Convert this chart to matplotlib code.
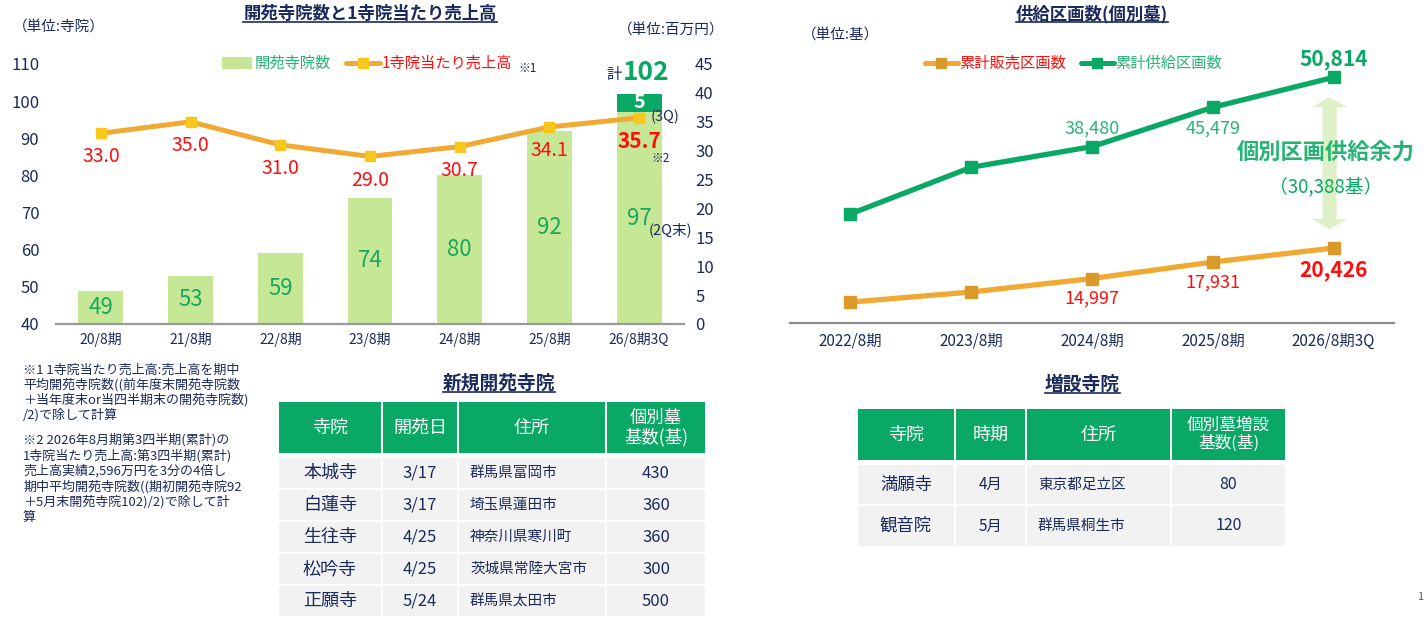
import matplotlib
matplotlib.use("Agg")
import numpy as np
from matplotlib import pyplot as plt
from matplotlib.patches import Rectangle, Polygon

plt.rcParams['font.family'] = ['Noto Sans CJK JP', 'DejaVu Sans']

W, H = 1426, 625

# ---- data ----
periods = ["20/8期", "21/8期", "22/8期", "23/8期", "24/8期", "25/8期", "26/8期3Q"]
temples = [49, 53, 59, 74, 80, 92, 97]
temples_added = [0, 0, 0, 0, 0, 0, 5]
sales_per_temple = [33.0, 35.0, 31.0, 29.0, 30.7, 34.1, 35.7]

years = ["2022/8期", "2023/8期", "2024/8期", "2025/8期", "2026/8期3Q"]
sold = [10800, 12600, 14997, 17931, 20426]
supplied = [26500, 34800, 38480, 45479, 50814]

new_header = ["寺院", "開苑日", "住所", "個別墓\n基数(基)"]
new_names = ["本城寺", "白蓮寺", "生往寺", "松吟寺", "正願寺"]
new_dates = ["3/17", "3/17", "4/25", "4/25", "5/24"]
new_addr = ["群馬県富岡市", "埼玉県蓮田市", "神奈川県寒川町", "茨城県常陸大宮市", "群馬県太田市"]
new_count = [430, 360, 360, 300, 500]

ext_header = ["寺院", "時期", "住所", "個別墓増設\n基数(基)"]
ext_names = ["満願寺", "観音院"]
ext_when = ["4月", "5月"]
ext_addr = ["東京都足立区", "群馬県桐生市"]
ext_count = [80, 120]

note1 = ["※1 1寺院当たり売上高:売上高を期中",
         "平均開苑寺院数((前年度末開苑寺院数",
         "＋当年度末or当四半期末の開苑寺院数)",
         "/2)で除して計算"]
note2 = ["※2 2026年8月期第3四半期(累計)の",
         "1寺院当たり売上高:第3四半期(累計)",
         "売上高実績2,596万円を3分の4倍し",
         "期中平均開苑寺院数((期初開苑寺院92",
         "＋5月末開苑寺院102)/2)で除して計",
         "算"]

NAVY = "#1b2a5c"
LGREEN = "#c6e896"
DGREEN = "#09a864"
GTEXT = "#19a85e"
LTGREEN = "#26b474"
ORANGE = "#f0aa34"
ORANGE_MK = "#d99a2b"
YELLOW = "#f8c71c"
RED = "#ff0d0d"
GRAY = "#9a9a9a"
CELL = "#f2f2f2"

fig = plt.figure(figsize=(W / 100, H / 100), dpi=100)


def box(x0, y0, x1, y1):
    return fig.add_axes([x0 / W, 1 - y1 / H, (x1 - x0) / W, (y1 - y0) / H])


# ---- left chart ----
ax1 = box(56, 64, 684, 324)
x = np.arange(len(periods))
ax1.bar(x, temples, width=0.5, color=LGREEN, lw=0, zorder=2)
ax1.bar(x, temples_added, bottom=temples, width=0.5, color=DGREEN, lw=0, zorder=2)
ax1.set_xlim(-0.5, 6.5)
ax1.set_ylim(40, 110)
ax1.set_yticks(range(40, 111, 10))
ax1.set_xticks(x, periods)
ax1.tick_params(length=0, labelcolor=NAVY)
ax1.tick_params(axis='y', labelsize=12, pad=12)
ax1.tick_params(axis='x', labelsize=10, pad=6)
for s in ['top', 'left', 'right']:
    ax1.spines[s].set_visible(False)
ax1.spines['bottom'].set_color(GRAY)
ax1.spines['bottom'].set_linewidth(1.6)
ax1.patch.set_alpha(0)
for xi, v in zip(x, temples):
    ax1.text(xi, (40 + v) / 2, str(v), ha='center', va='center',
             fontsize=16, color=GTEXT, zorder=3)
for xi, v in zip(x, temples_added):
    if v:
        ax1.text(xi, temples[xi] + v / 2, str(v), ha='center', va='center',
                 fontsize=14, color='white', fontweight='bold', zorder=3)

ax2 = ax1.twinx()
ax2.set_ylim(0, 45)
ax2.set_yticks(range(0, 46, 5))
ax2.tick_params(length=0, labelcolor=NAVY, labelsize=12, pad=8)
for s in ax2.spines.values():
    s.set_visible(False)
ax2.plot(x, sales_per_temple, color=ORANGE, lw=3.6, marker='s', ms=7,
         mfc=YELLOW, mec=YELLOW, zorder=4)
for i, v in enumerate(sales_per_temple):
    last = i == len(sales_per_temple) - 1
    ax2.annotate(f"{v:.1f}", (x[i], v), xytext=(0, -17), textcoords='offset points',
                 ha='center', va='center', color=RED,
                 fontsize=15 if last else 14, fontweight='bold' if last else 'normal')

# ---- right chart ----
ax3 = box(790, 60, 1394, 323)
xr = np.arange(len(years))
ax3.plot(xr, supplied, color=DGREEN, lw=3.8, marker='s', ms=8, zorder=3)
ax3.plot(xr, sold, color=ORANGE, lw=3.8, marker='s', ms=8,
         mfc=ORANGE_MK, mec=ORANGE_MK, zorder=3)
ax3.set_xlim(-0.5, 4.5)
ax3.set_ylim(7080, 53900)
ax3.set_yticks([])
ax3.set_xticks(xr, years)
ax3.tick_params(length=0, labelcolor=NAVY, labelsize=11, pad=7)
for s in ['top', 'left', 'right']:
    ax3.spines[s].set_visible(False)
ax3.spines['bottom'].set_color("#8c8c8c")
ax3.spines['bottom'].set_linewidth(1.6)
ax3.patch.set_alpha(0)

sup_lab = {2: (13, False), 3: (-15, False), 4: (12.5, True)}
for i, (dy, bold) in sup_lab.items():
    ax3.annotate(f"{supplied[i]:,}", (xr[i], supplied[i]), xytext=(0, dy),
                 textcoords='offset points', ha='center', va='center',
                 color=DGREEN if bold else LTGREEN, fontsize=15 if bold else 13,
                 fontweight='bold' if bold else 'normal')
sold_lab = {2: (-14.5, False), 3: (-14.5, False), 4: (-16.5, True)}
for i, (dy, bold) in sold_lab.items():
    ax3.annotate(f"{sold[i]:,}", (xr[i], sold[i]), xytext=(0, dy),
                 textcoords='offset points', ha='center', va='center',
                 color=RED, fontsize=15 if bold else 13,
                 fontweight='bold' if bold else 'normal')

# ---- overlay in pixel space ----
pax = fig.add_axes([0, 0, 1, 1])
pax.set_xlim(0, W)
pax.set_ylim(H, 0)
pax.axis('off')
pax.patch.set_alpha(0)


def to_px(ax, pt):
    d = ax.transData.transform(pt)
    return pax.transData.inverted().transform(d)


titles = []
titles.append(pax.text(370, 14, "開苑寺院数と1寺院当たり売上高", ha='center', va='center',
                       fontsize=12.5, fontweight='bold', color=NAVY))
titles.append(pax.text(1092, 14, "供給区画数(個別墓)", ha='center', va='center',
                       fontsize=12.5, fontweight='bold', color=NAVY))
titles.append(pax.text(499, 383, "新規開苑寺院", ha='center', va='center',
                       fontsize=13.5, fontweight='bold', color=NAVY))
titles.append(pax.text(1082, 384, "増設寺院", ha='center', va='center',
                       fontsize=13.5, fontweight='bold', color=NAVY))

pax.text(59, 27, "（単位:寺院）", ha='center', va='center', fontsize=10.5, color=NAVY)
pax.text(671, 30, "（単位:百万円）", ha='center', va='center', fontsize=10.5, color=NAVY)
pax.text(841, 35, "（単位:基）", ha='center', va='center', fontsize=10.5, color=NAVY)

# left legend
pax.add_patch(Rectangle((222, 57), 30, 12, color=LGREEN, lw=0))
pax.text(255, 63, "開苑寺院数", ha='left', va='center', fontsize=11, color=LTGREEN)
pax.plot([346, 380], [63, 63], color=ORANGE, lw=3.6, solid_capstyle='round')
pax.plot([363], [63], marker='s', ms=7, color=YELLOW)
pax.text(382, 63, "1寺院当たり売上高", ha='left', va='center', fontsize=11, color=RED)
pax.text(518, 68, "※1", ha='left', va='center', fontsize=8.5, color=NAVY)

# right legend
pax.plot([925, 958], [63, 63], color=ORANGE, lw=3.6, solid_capstyle='round')
pax.plot([941], [63], marker='s', ms=7, color=ORANGE_MK)
pax.text(959, 63, "累計販売区画数", ha='left', va='center', fontsize=11, color=RED)
pax.plot([1081, 1114], [63, 63], color=DGREEN, lw=3.6, solid_capstyle='round')
pax.plot([1097], [63], marker='s', ms=7, color=DGREEN)
pax.text(1115, 63, "累計供給区画数", ha='left', va='center', fontsize=11, color=LTGREEN)

# left chart extra notes
total = temples[-1] + temples_added[-1]
pax.text(622, 75, "計", ha='right', va='center', fontsize=11, color=NAVY)
pax.text(623, 73, str(total), ha='left', va='center', fontsize=19,
         fontweight='bold', color=DGREEN)
pax.text(651, 117, "(3Q)", ha='left', va='center', fontsize=10.5, color=NAVY)
pax.text(651, 158, "※2", ha='left', va='center', fontsize=8.5, color=NAVY)
pax.text(649, 230, "(2Q末)", ha='left', va='center', fontsize=10.5, color=NAVY)

# supply margin arrow
xa, ytop = to_px(ax3, (xr[-1], supplied[-1]))
_, ybot = to_px(ax3, (xr[-1], sold[-1]))
xa -= 4
ytop += 20
ybot -= 19
hw, sw, hl = 18, 7, 10
pax.add_patch(Polygon([(xa, ytop), (xa + hw, ytop + hl), (xa + sw, ytop + hl),
                       (xa + sw, ybot - hl), (xa + hw, ybot - hl), (xa, ybot),
                       (xa - hw, ybot - hl), (xa - sw, ybot - hl), (xa - sw, ytop + hl),
                       (xa - hw, ytop + hl)], closed=True, color="#ddf0c6", lw=0, zorder=1))
margin = supplied[-1] - sold[-1]
pax.text(1326, 152, "個別区画供給余力", ha='center', va='center', fontsize=16,
         fontweight='bold', color=LTGREEN, zorder=3)
pax.text(1326, 187, f"（{margin:,}基）", ha='center', va='center', fontsize=13.5,
         color=DGREEN, zorder=3)

# footnotes
for k, line in enumerate(note1):
    pax.text(23, 370 + 15 * k, line, ha='left', va='center', fontsize=9.4, color=NAVY)
for k, line in enumerate(note2):
    pax.text(23, 440 + 15.5 * k, line, ha='left', va='center', fontsize=9.4, color=NAVY)


# tables
def draw_table(cols, head, rows_y, header, rows, fsizes, hsizes, addr_pad=12):
    for c in range(len(cols) - 1):
        pax.add_patch(Rectangle((cols[c] + 1, head[0]), cols[c + 1] - cols[c] - 2,
                                head[1] - head[0], color=DGREEN, lw=0))
        pax.text((cols[c] + cols[c + 1]) / 2, (head[0] + head[1]) / 2, header[c],
                 ha='center', va='center', fontsize=hsizes[c], color='white',
                 linespacing=1.1)
    for r, vals in enumerate(rows):
        y0, y1 = rows_y[r], rows_y[r + 1]
        for c in range(len(cols) - 1):
            pax.add_patch(Rectangle((cols[c] + 1, y0 + 1), cols[c + 1] - cols[c] - 2,
                                    y1 - y0 - 2, color=CELL, lw=0))
            if c == 2:
                pax.text(cols[c] + addr_pad, (y0 + y1) / 2, vals[c], ha='left',
                         va='center', fontsize=fsizes[c], color=NAVY)
            else:
                pax.text((cols[c] + cols[c + 1]) / 2, (y0 + y1) / 2, vals[c],
                         ha='center', va='center', fontsize=fsizes[c], color=NAVY)


draw_table([278, 382, 458, 606, 706], (402, 453), [457, 489, 521, 553, 585, 617],
           new_header,
           [(n, d, a, str(c)) for n, d, a, c in zip(new_names, new_dates, new_addr, new_count)],
           [13, 12, 10.5, 12], [13, 13, 13, 12.5])
draw_table([857, 955, 1026, 1171, 1286], (409, 460), [464, 505, 547],
           ext_header,
           [(n, d, a, str(c)) for n, d, a, c in zip(ext_names, ext_when, ext_addr, ext_count)],
           [12.5, 11, 10.5, 11.5], [13, 13, 13, 12])

pax.text(1417, 597, "1", ha='left', va='center', fontsize=8, color="#555555")

# underline titles
fig.canvas.draw()
inv = pax.transData.inverted()
for t in titles:
    bb = t.get_window_extent()
    (x0, y0), (x1, y1) = inv.transform([(bb.x0, bb.y0), (bb.x1, bb.y1)])
    pax.plot([x0, x1], [y0 - 1, y0 - 1], color=NAVY, lw=1.2)

fig.savefig("out.png", dpi=100)
